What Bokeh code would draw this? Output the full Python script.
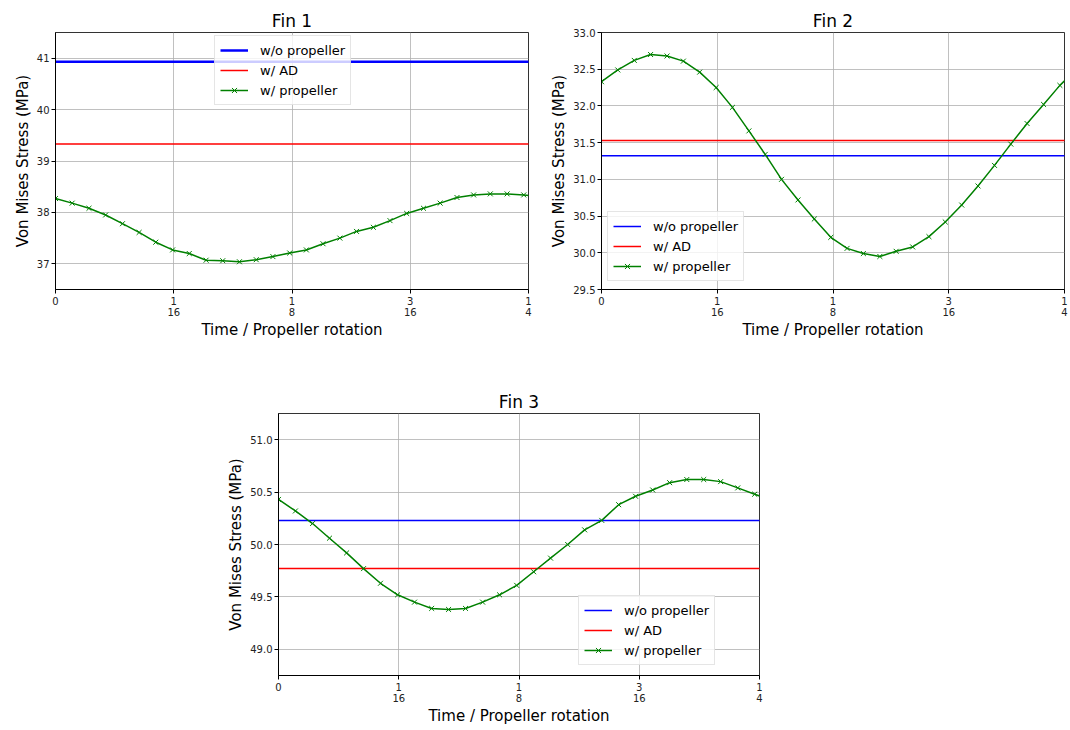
from bokeh.plotting import figure
from bokeh.layouts import column, row, Spacer
from bokeh.models import Range1d, FixedTicker
from bokeh.embed import file_html
from bokeh.resources import INLINE

# ---------------- data ----------------
x_time = [0.0, 0.0088, 0.0177, 0.0265, 0.0354, 0.0442, 0.0530, 0.0619, 0.0707, 0.0796,
          0.0884, 0.0972, 0.1061, 0.1149, 0.1238, 0.1326, 0.1414, 0.1503, 0.1591, 0.1680,
          0.1768, 0.1856, 0.1945, 0.2033, 0.2122, 0.2210, 0.2298, 0.2387, 0.2475, 0.2564]

fin1_prop = [38.27, 38.18, 38.08, 37.95, 37.78, 37.61, 37.42, 37.27, 37.20, 37.07,
             37.06, 37.04, 37.08, 37.14, 37.21, 37.27, 37.39, 37.50, 37.63, 37.71,
             37.84, 37.98, 38.08, 38.18, 38.29, 38.34, 38.36, 38.36, 38.34, 38.31]
fin1_wo = 40.93
fin1_ad = 39.33

fin2_prop = [32.33, 32.49, 32.62, 32.70, 32.68, 32.61, 32.46, 32.25, 31.98, 31.66,
             31.34, 31.00, 30.72, 30.46, 30.21, 30.06, 29.99, 29.95, 30.02, 30.08,
             30.22, 30.42, 30.65, 30.91, 31.19, 31.48, 31.76, 32.02, 32.28, 32.50]
fin2_wo = 31.32
fin2_ad = 31.53

fin3_prop = [50.43, 50.32, 50.20, 50.06, 49.92, 49.77, 49.63, 49.52, 49.45, 49.39,
             49.38, 49.39, 49.45, 49.52, 49.61, 49.74, 49.87, 50.00, 50.14, 50.23,
             50.38, 50.46, 50.52, 50.59, 50.62, 50.62, 50.60, 50.54, 50.48, 50.42]
fin3_wo = 50.23
fin3_ad = 49.77

x_ticks = [0, 0.0625, 0.125, 0.1875, 0.25]
x_labels = ["0", "1\n16", "1\n8", "3\n16", "1\n4"]

fin1_yticks = [37, 38, 39, 40, 41]
fin2_yticks = [29.5, 30.0, 30.5, 31.0, 31.5, 32.0, 32.5, 33.0]
fin3_yticks = [49.0, 49.5, 50.0, 50.5, 51.0]

labels = ["w/o propeller", "w/ AD", "w/ propeller"]
FONT = "DejaVu Sans"


def make_fig(title, prop, wo, ad, yr, yticks, ylabfmt, w, h,
             bl, br, bt, bb, legend_xy, blue_w=1.5):
    p = figure(width=w, height=h, output_backend="svg", toolbar_location=None,
               x_range=Range1d(0, 0.25), y_range=Range1d(*yr),
               min_border_left=bl, min_border_right=br,
               min_border_top=bt, min_border_bottom=bb)
    p.title.text = title
    p.title.text_font = FONT
    p.title.text_font_size = "17px"
    p.title.text_font_style = "normal"
    p.title.text_color = "black"
    p.title.align = "center"
    p.title.standoff = 4
    p.title.offset = 0

    n = len(x_time)
    p.line(x_time, [wo] * n, line_color="#0000ff", line_width=blue_w, legend_label=labels[0])
    p.line(x_time, [ad] * n, line_color="#ff0000", line_width=1.5, legend_label=labels[1])
    p.line(x_time, prop, line_color="#008000", line_width=1.5, legend_label=labels[2])
    p.scatter(x_time, prop, marker="x", size=7, line_color="#008000", line_width=1,
              legend_label=labels[2])

    p.xaxis.ticker = FixedTicker(ticks=x_ticks)
    p.xaxis.major_label_overrides = {t: l for t, l in zip(x_ticks, x_labels)}
    p.yaxis.ticker = FixedTicker(ticks=yticks)
    p.yaxis.major_label_overrides = {t: ylabfmt.format(t) for t in yticks}

    for ax in (p.xaxis[0], p.yaxis[0]):
        ax.major_label_text_font = FONT
        ax.major_label_text_font_size = "10px"
        ax.major_label_text_color = "#222222"
        ax.major_label_text_line_height = 1.0
        ax.axis_label_text_font = FONT
        ax.axis_label_text_font_size = "15px"
        ax.axis_label_text_font_style = "normal"
        ax.axis_label_text_color = "black"
        ax.axis_line_color = "black"
        ax.major_tick_line_color = "black"
        ax.major_tick_out = 4
        ax.major_tick_in = 0
        ax.minor_tick_line_color = None
        ax.major_label_standoff = 2
        ax.axis_label_standoff = 2
    p.xaxis.axis_label_standoff = 0
    p.xaxis.axis_label = "Time / Propeller rotation"
    p.yaxis.axis_label = "Von Mises Stress (MPa)"

    p.grid.grid_line_color = "#b0b0b0"
    p.grid.grid_line_width = 0.8
    p.outline_line_color = "black"
    p.outline_line_alpha = 0.8

    lg = p.legend[0]
    lg.location = legend_xy
    lg.label_text_font = FONT
    lg.label_text_font_size = "13px"
    lg.label_text_color = "black"
    lg.glyph_width = 28
    lg.glyph_height = 18
    lg.label_height = 18
    lg.label_standoff = 12
    lg.spacing = 2
    lg.padding = 5
    lg.margin = 0
    lg.border_line_color = "#cccccc"
    lg.border_line_width = 1
    lg.background_fill_alpha = 0.8
    return p


p1 = make_fig("Fin 1", fin1_prop, fin1_wo, fin1_ad, (36.5, 41.5), fin1_yticks, "{:.0f}",
              541, 341, 55, 13, 32, 49, (159, 184), blue_w=2.5)
p2 = make_fig("Fin 2", fin2_prop, fin2_wo, fin2_ad, (29.5, 33.0), fin2_yticks, "{:.1f}",
              527, 341, 60, 4, 32, 49, (6, 8))
p3 = make_fig("Fin 3", fin3_prop, fin3_wo, fin3_ad, (48.75, 51.25), fin3_yticks, "{:.1f}",
              554, 351, 58, 15, 37, 47, (300, 10))

layout = column(row(p1, p2), Spacer(height=35), row(Spacer(width=220), p3))

open("out.html", "w").write(file_html(layout, INLINE))
